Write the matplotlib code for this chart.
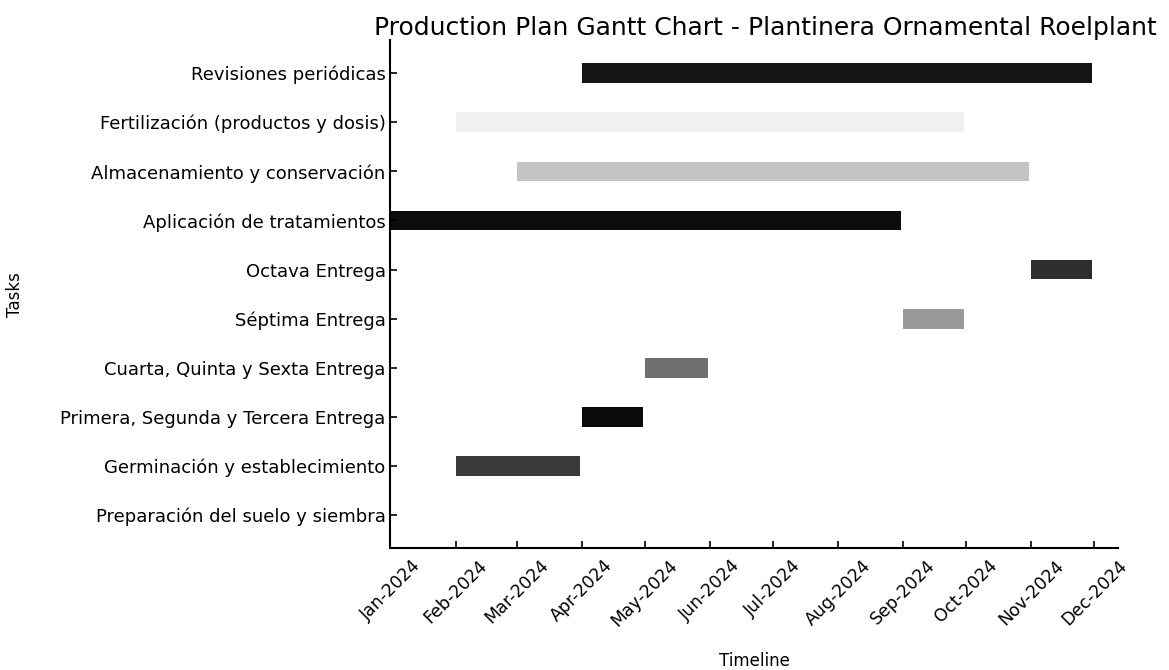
import matplotlib

matplotlib.use("Agg")
import matplotlib.pyplot as plt
import matplotlib.dates as mdates
import pandas as pd

# tasks listed bottom -> top
tasks = [
    "Preparación del suelo y siembra",
    "Germinación y establecimiento",
    "Primera, Segunda y Tercera Entrega",
    "Cuarta, Quinta y Sexta Entrega",
    "Séptima Entrega",
    "Octava Entrega",
    "Aplicación de tratamientos",
    "Almacenamiento y conservación",
    "Fertilización (productos y dosis)",
    "Revisiones periódicas",
]
starts = [
    "2024-01-01", "2024-02-01", "2024-04-01", "2024-05-01", "2024-09-01",
    "2024-11-01", "2024-01-01", "2024-03-01", "2024-02-01", "2024-04-01",
]
ends = [
    "2024-01-31", "2024-03-31", "2024-04-30", "2024-05-31", "2024-09-30",
    "2024-11-30", "2024-08-31", "2024-10-31", "2024-09-30", "2024-11-30",
]
colors = [
    "#ffffff", "#3a3a3a", "#0a0a0a", "#6e6e6e", "#9a9a9a",
    "#2e2e2e", "#0c0c0c", "#c4c4c4", "#f0f0f0", "#141414",
]

start_dt = pd.to_datetime(starts)
end_dt = pd.to_datetime(ends)
left = mdates.date2num(start_dt)
width = mdates.date2num(end_dt) - left

fig = plt.figure(figsize=(11.69, 6.70), dpi=100)
ax = fig.add_axes([0.334, 0.182, 0.622, 0.758])

ax.barh(range(len(tasks)), width, left=left, height=0.4, color=colors)

ax.set_yticks(range(len(tasks)), labels=tasks, fontsize=13)
ax.xaxis.set_major_locator(mdates.MonthLocator())
ax.xaxis.set_major_formatter(mdates.DateFormatter("%b-%Y"))
ax.set_xlim(mdates.date2num(pd.Timestamp("2024-01-01")),
            mdates.date2num(pd.Timestamp("2024-12-12")))
plt.setp(ax.get_xticklabels(), rotation=45, fontsize=12.5)
ax.tick_params(direction="in", length=5, width=1.2)
ax.tick_params(axis="x", pad=6)

ax.set_xlabel("Timeline", fontsize=12, labelpad=16)
ax.set_ylabel("Tasks", fontsize=12, labelpad=26)
ax.set_title("Production Plan Gantt Chart - Plantinera Ornamental Roelplant",
             fontsize=18, x=0.515, pad=-1)
ax.spines["top"].set_visible(False)
ax.spines["right"].set_visible(False)
ax.spines["left"].set_linewidth(1.5)
ax.spines["bottom"].set_linewidth(1.5)

fig.savefig("out.png")
plt.close(fig)
